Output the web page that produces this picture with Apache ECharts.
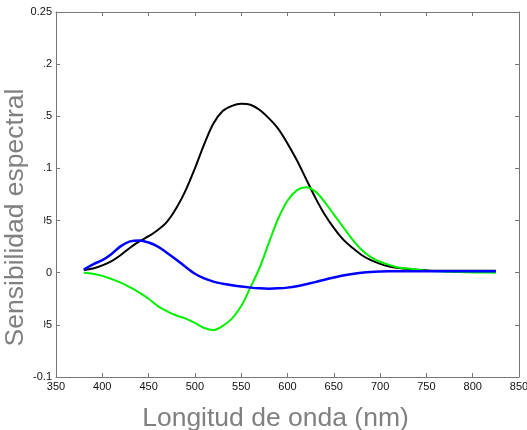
<!DOCTYPE html>
<html>
<head>
<meta charset="utf-8">
<script src="https://cdn.jsdelivr.net/npm/echarts@6/dist/echarts.min.js"></script>
<style>
html,body{margin:0;padding:0;background:#fff;}
#chart{width:527px;height:430px;}
</style>
</head>
<body>
<div id="chart"></div>
<script>
var wavelengths = [380,390,400,410,420,430,440,450,460,470,480,490,500,510,520,530,540,550,560,570,580,590,600,610,620,630,640,650,660,670,680,690,700,710,720,730,740,750,760,770,780,790,800,810,820,825];
var blackValues = [0.0025,0.004,0.007,0.011,0.017,0.024,0.030,0.035,0.041,0.049,0.062,0.079,0.100,0.123,0.143,0.155,0.160,0.162,0.161,0.156,0.148,0.138,0.124,0.108,0.090,0.072,0.056,0.043,0.032,0.024,0.017,0.012,0.0085,0.006,0.0045,0.0035,0.0028,0.0023,0.002,0.002,0.002,0.002,0.002,0.002,0.002,0.002];
var greenValues = [0.0,-0.001,-0.003,-0.006,-0.0095,-0.014,-0.019,-0.025,-0.032,-0.037,-0.041,-0.044,-0.048,-0.053,-0.055,-0.051,-0.044,-0.032,-0.014,0.005,0.029,0.052,0.069,0.079,0.082,0.078,0.068,0.056,0.044,0.032,0.022,0.015,0.0105,0.0075,0.005,0.004,0.003,0.002,0.0015,0.001,0.0008,0.0005,0.0003,0.0002,0.0001,0.0];
var blueValues = [0.003,0.008,0.012,0.018,0.0255,0.030,0.031,0.029,0.025,0.019,0.0125,0.0055,-0.001,-0.0055,-0.0085,-0.0105,-0.012,-0.0133,-0.0143,-0.015,-0.0153,-0.015,-0.0143,-0.013,-0.011,-0.009,-0.0067,-0.0046,-0.0027,-0.0012,0.0,0.0008,0.0012,0.0014,0.0015,0.0015,0.0015,0.0015,0.0015,0.0015,0.0015,0.0015,0.0015,0.0015,0.0015,0.0015];
var xTicks = [350,400,450,500,550,600,650,700,750,800,850];
var yTickLabels = {"0.25":"0.25","0.2":"0.2","0.15":"0.15","0.1":"0.1","0.05":"0.05","0":"0","-0.05":"-0.05","-0.1":"-0.1"};
var xTitle = "Longitud de onda (nm)";
var yTitle = "Sensibilidad espectral";

function pairs(vals){ return wavelengths.map(function(w,i){ return [w, vals[i]]; }); }

var axisColor = '#777777';
var chart = echarts.init(document.getElementById('chart'), null, {renderer:'canvas'});
var baseX = {
  type:'value', min:350, max:850, interval:50,
  axisLine:{show:true, onZero:false, lineStyle:{color:axisColor, width:1}},
  axisTick:{show:true, inside:true, length:4, lineStyle:{color:axisColor}},
  splitLine:{show:false}
};
var baseY = {
  type:'value', min:-0.1, max:0.25, interval:0.05,
  axisLine:{show:true, onZero:false, lineStyle:{color:axisColor, width:1}},
  axisTick:{show:true, inside:true, length:4, lineStyle:{color:axisColor}},
  splitLine:{show:false}
};
var option = {
  backgroundColor:'#ffffff',
  animation:false,
  grid:{left:56, right:8, top:12, bottom:53, containLabel:false, outerBoundsMode:'none'},
  xAxis:[
    Object.assign({}, baseX, {position:'bottom',
      axisLabel:{show:true, margin:4, color:'#111', fontFamily:'Liberation Sans, Arial, sans-serif', fontSize:11,
        formatter:function(v){ return xTicks.indexOf(v) >= 0 ? String(v) : ''; }}}),
    Object.assign({}, baseX, {position:'top', axisLabel:{show:false}})
  ],
  yAxis:[
    Object.assign({}, baseY, {position:'left',
      axisLabel:{show:true, margin:4, color:'#111', fontFamily:'Liberation Sans, Arial, sans-serif', fontSize:11,
        formatter:function(v){ var k = String(Math.round(v*100)/100); return yTickLabels[k] !== undefined ? yTickLabels[k] : k; }}}),
    Object.assign({}, baseY, {position:'right', axisLabel:{show:false}})
  ],
  series:[
    {type:'line', name:'black', data:pairs(blackValues), showSymbol:false, symbol:'none', smooth:0.35,
     lineStyle:{color:'#000000', width:2}, z:2},
    {type:'line', name:'green', data:pairs(greenValues), showSymbol:false, symbol:'none', smooth:0.35,
     lineStyle:{color:'#00f000', width:2}, z:3},
    {type:'line', name:'blue', data:pairs(blueValues), showSymbol:false, symbol:'none', smooth:0.35,
     lineStyle:{color:'#0000ff', width:2.5}, z:4}
  ],
  graphic:[
    {type:'rect', z:100, shape:{x:0, y:50, width:44, height:312}, style:{fill:'#ffffff'}},
    {type:'text', z:101, x:16, y:217.5, rotation:Math.PI/2,
     style:{text:yTitle, fill:'#808080', font:'26.5px "Liberation Sans", Arial, sans-serif', textAlign:'center', textVerticalAlign:'middle'}},
    {type:'text', z:101, x:275.5, y:418.5,
     style:{text:xTitle, fill:'#808080', font:'26.5px "Liberation Sans", Arial, sans-serif', textAlign:'center', textVerticalAlign:'middle'}}
  ]
};
chart.setOption(option);
</script>
</body>
</html>
